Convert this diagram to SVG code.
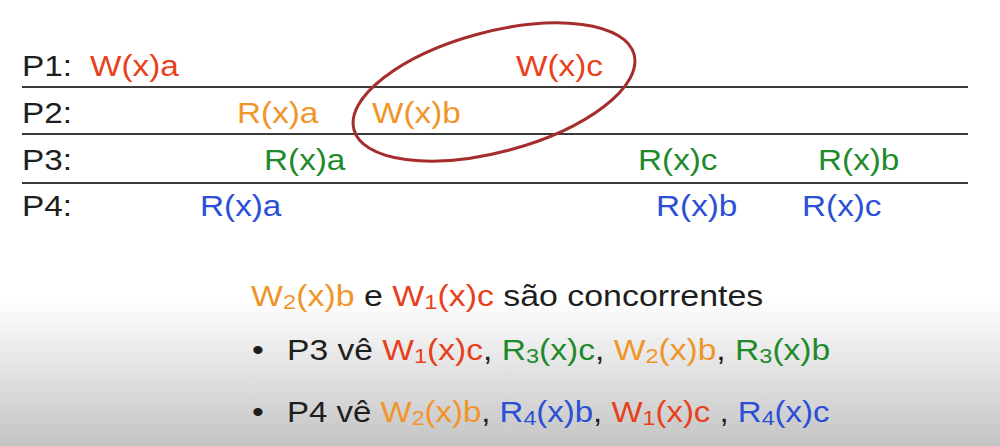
<svg xmlns="http://www.w3.org/2000/svg" width="1000" height="446" viewBox="0 0 1000 446">
<defs>
<linearGradient id="bg" x1="0" y1="0" x2="0" y2="1">
<stop offset="0" stop-color="#ffffff"/>
<stop offset="0.67" stop-color="#ffffff"/>
<stop offset="1" stop-color="#c4c4c4"/>
</linearGradient>
<style>
text{font-family:"Liberation Sans",Arial,sans-serif;font-size:30px}
.k{fill:#1e1e1e}
.r{fill:#e8401c}
.o{fill:#f0952a}
.g{fill:#1f8a2c}
.b{fill:#2b4fd6}
.s{font-size:21px}
.ln{stroke:#3a3a3a;stroke-width:2}
</style>
</defs>
<rect width="1000" height="446" fill="url(#bg)"/>
<g id="timelines">
<line class="ln" x1="22" y1="87" x2="968" y2="87"/>
<line class="ln" x1="22" y1="134" x2="968" y2="134"/>
<line class="ln" x1="22" y1="183" x2="968" y2="183"/>
</g>
<g id="labels">
<text class="k" transform="translate(22 76) scale(1.11 1)">P1:</text>
<text class="k" transform="translate(22 123) scale(1.11 1)">P2:</text>
<text class="k" transform="translate(22 170) scale(1.11 1)">P3:</text>
<text class="k" transform="translate(22 216) scale(1.11 1)">P4:</text>
</g>
<g id="p1">
<text class="r" transform="translate(90 76) scale(1.11 1)">W(x)a</text>
<text class="r" transform="translate(516 76) scale(1.11 1)">W(x)c</text>
</g>
<g id="p2">
<text class="o" transform="translate(237 123) scale(1.11 1)">R(x)a</text>
<text class="o" transform="translate(372 123) scale(1.11 1)">W(x)b</text>
</g>
<g id="p3">
<text class="g" transform="translate(264 170) scale(1.11 1)">R(x)a</text>
<text class="g" transform="translate(638 170) scale(1.11 1)">R(x)c</text>
<text class="g" transform="translate(818 170) scale(1.11 1)">R(x)b</text>
</g>
<g id="p4">
<text class="b" transform="translate(200 216) scale(1.11 1)">R(x)a</text>
<text class="b" transform="translate(656 216) scale(1.11 1)">R(x)b</text>
<text class="b" transform="translate(802 216) scale(1.11 1)">R(x)c</text>
</g>
<g id="concurrent">
<ellipse cx="494" cy="92" rx="145" ry="60" transform="rotate(-15 494 92)" fill="none" stroke="#a52e2c" stroke-width="3"/>
</g>
<g id="notes">
<text transform="translate(251 306) scale(1.13 1)"><tspan class="o">W<tspan class="s" dy="3">2</tspan><tspan dy="-3">(x)b</tspan></tspan><tspan class="k"> e </tspan><tspan class="r">W<tspan class="s" dy="3">1</tspan><tspan dy="-3">(x)c</tspan></tspan><tspan class="k"> são concorrentes</tspan></text>
<text class="k" transform="translate(252 360) scale(1.13 1)">•</text>
<text transform="translate(287 360) scale(1.12 1)"><tspan class="k">P3 vê </tspan><tspan class="r">W<tspan class="s" dy="3">1</tspan><tspan dy="-3">(x)c</tspan></tspan><tspan class="k">, </tspan><tspan class="g">R<tspan class="s" dy="3">3</tspan><tspan dy="-3">(x)c</tspan></tspan><tspan class="k">, </tspan><tspan class="o">W<tspan class="s" dy="3">2</tspan><tspan dy="-3">(x)b</tspan></tspan><tspan class="k">, </tspan><tspan class="g">R<tspan class="s" dy="3">3</tspan><tspan dy="-3">(x)b</tspan></tspan></text>
<text class="k" transform="translate(252 422) scale(1.13 1)">•</text>
<text transform="translate(287 422) scale(1.10 1)"><tspan class="k">P4 vê </tspan><tspan class="o">W<tspan class="s" dy="3">2</tspan><tspan dy="-3">(x)b</tspan></tspan><tspan class="k">, </tspan><tspan class="b">R<tspan class="s" dy="3">4</tspan><tspan dy="-3">(x)b</tspan></tspan><tspan class="k">, </tspan><tspan class="r">W<tspan class="s" dy="3">1</tspan><tspan dy="-3">(x)c</tspan></tspan><tspan class="k"> , </tspan><tspan class="b">R<tspan class="s" dy="3">4</tspan><tspan dy="-3">(x)c</tspan></tspan></text>
</g>
</svg>
